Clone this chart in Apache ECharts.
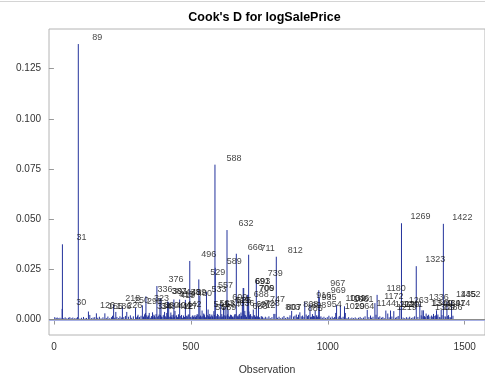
<!DOCTYPE html>
<html>
<head>
<meta charset="utf-8">
<script src="https://cdn.jsdelivr.net/npm/echarts@6/dist/echarts.min.js"></script>
<style>html,body{margin:0;padding:0;background:#fff}#c{width:485px;height:381px}</style>
</head>
<body>
<div id="c"></div>
<script>
// Labeled (influential) observations: [observation, Cook's D]
const labeledNeedles = [
  [30,0.0053],[31,0.0375],[89,0.1373],[126,0.0040],[155,0.0031],[186,0.0031],
  [218,0.0074],[226,0.0038],[250,0.0062],[298,0.0058],[323,0.0071],[334,0.0033],
  [336,0.0116],[348,0.0033],[360,0.0036],[376,0.0167],[387,0.0107],[391,0.0105],
  [404,0.0038],[412,0.0033],[415,0.0090],[419,0.0088],[427,0.0035],[438,0.0100],
  [442,0.0043],[459,0.0100],[480,0.0098],[496,0.0292],[529,0.0200],[533,0.0118],
  [541,0.0045],[547,0.0030],[557,0.0138],[563,0.0050],[569,0.0028],[584,0.0042],
  [588,0.0772],[589,0.0258],[609,0.0079],[619,0.0060],[625,0.0063],[632,0.0446],
  [636,0.0048],[666,0.0328],[683,0.0035],[688,0.0093],[691,0.0157],[693,0.0157],
  [697,0.0043],[706,0.0123],[709,0.0123],[711,0.0323],[712,0.0040],[728,0.0050],
  [739,0.0197],[747,0.0069],[803,0.0028],[807,0.0028],[812,0.0313],[868,0.0043],
  [885,0.0025],[898,0.0036],[916,0.0088],[935,0.0076],[954,0.0044],[967,0.0146],
  [969,0.0110],[1029,0.0033],[1032,0.0072],[1046,0.0070],[1061,0.0066],[1064,0.0033],
  [1144,0.0048],[1172,0.0082],[1180,0.0123],[1212,0.0045],[1219,0.0030],[1229,0.0045],
  [1241,0.0042],[1263,0.0061],[1269,0.0480],[1323,0.0266],[1336,0.0077],[1344,0.0046],
  [1349,0.0046],[1359,0.0030],[1386,0.0028],[1397,0.0046],[1414,0.0048],[1422,0.0477],
  [1435,0.0090],[1452,0.0092]
];
// Remaining visible observations: [observation, Cook's D]
const minorNeedles = [
  [3,0.0012],[8,0.0008],[12,0.0010],[17,0.0006],[22,0.0009],[27,0.0005],[36,0.0007],
  [41,0.0011],[47,0.0006],[53,0.0009],[58,0.0012],[63,0.0007],[69,0.0010],[75,0.0006],
  [81,0.0008],[86,0.0012],[95,0.0005],[101,0.0009],[108,0.0013],[114,0.0006],[119,0.0008],
  [131,0.0023],[137,0.0007],[143,0.0010],[149,0.0012],[160,0.0009],[166,0.0014],[172,0.0006],
  [179,0.0011],[191,0.0008],[197,0.0015],[204,0.0007],[210,0.0012],[214,0.0019],[222,0.0009],
  [230,0.0013],[236,0.0007],[241,0.0016],[246,0.0010],[255,0.0012],[261,0.0018],[266,0.0038],
  [272,0.0014],[279,0.0021],[284,0.0009],[290,0.0016],[302,0.0011],[307,0.0024],[313,0.0013],
  [318,0.0019],[327,0.0015],[331,0.0026],[341,0.0012],[345,0.0020],[352,0.0009],[356,0.0017],
  [365,0.0024],[370,0.0011],[381,0.0018],[384,0.0025],[395,0.0012],[399,0.0021],[408,0.0016],
  [423,0.0013],[431,0.0022],[434,0.0010],[446,0.0019],[451,0.0012],[455,0.0026],[464,0.0015],
  [469,0.0009],[473,0.0020],[477,0.0013],[485,0.0017],[490,0.0024],[501,0.0011],[505,0.0018],
  [510,0.0013],[515,0.0022],[519,0.0009],[523,0.0027],[537,0.0016],[540,0.0012],[550,0.0021],
  [553,0.0010],[566,0.0019],[572,0.0014],[577,0.0025],[581,0.0011],[595,0.0018],[600,0.0023],
  [603,0.0012],[613,0.0027],[616,0.0015],[628,0.0020],[641,0.0013],[645,0.0024],[650,0.0017],
  [655,0.0011],[660,0.0026],[669,0.0019],[673,0.0012],[677,0.0028],[680,0.0016],[700,0.0022],
  [703,0.0014],[716,0.0025],[720,0.0018],[724,0.0011],[733,0.0020],[743,0.0015],[752,0.0009],
  [757,0.0017],[762,0.0012],[767,0.0008],[772,0.0014],[778,0.0010],[785,0.0016],[790,0.0007],
  [796,0.0012],[816,0.0009],[822,0.0014],[828,0.0007],[834,0.0011],[840,0.0018],[846,0.0008],
  [852,0.0013],[858,0.0010],[862,0.0021],[875,0.0015],[880,0.0019],[889,0.0012],[893,0.0024],
  [903,0.0016],[908,0.0020],[913,0.0013],[921,0.0025],[926,0.0017],[930,0.0022],[940,0.0014],
  [944,0.0027],[948,0.0018],[959,0.0021],[962,0.0013],[975,0.0016],[980,0.0009],[986,0.0014],
  [992,0.0008],[998,0.0012],[1004,0.0019],[1010,0.0010],[1016,0.0015],[1020,0.0008],[1025,0.0013],
  [1038,0.0011],[1042,0.0018],[1051,0.0009],[1056,0.0014],[1070,0.0008],[1076,0.0012],[1082,0.0006],
  [1088,0.0010],[1094,0.0007],[1100,0.0011],[1106,0.0006],[1112,0.0009],[1118,0.0013],[1124,0.0007],
  [1130,0.0010],[1136,0.0016],[1150,0.0012],[1156,0.0020],[1160,0.0009],[1165,0.0014],[1176,0.0024],
  [1185,0.0011],[1190,0.0016],[1196,0.0009],[1201,0.0013],[1206,0.0007],[1224,0.0011],[1234,0.0015],
  [1247,0.0009],[1252,0.0013],[1257,0.0018],[1275,0.0010],[1281,0.0007],[1287,0.0012],[1293,0.0009],
  [1299,0.0014],[1305,0.0008],[1311,0.0011],[1317,0.0016],[1329,0.0013],[1341,0.0021],[1353,0.0017],
  [1368,0.0024],[1373,0.0015],[1379,0.0020],[1391,0.0018],[1402,0.0025],[1407,0.0013],[1428,0.0016],
  [1441,0.0022],[1446,0.0012],[1457,0.0019],
  [305,0.0017],[311,0.0010],[339,0.0021],[343,0.0014],[362,0.0012],[367,0.0019],[373,0.0027],
  [379,0.0013],[389,0.0022],[393,0.0015],[402,0.0024],[410,0.0011],[417,0.0020],[425,0.0016],
  [429,0.0012],[436,0.0025],[440,0.0014],[448,0.0021],[453,0.0010],[461,0.0018],[466,0.0023],
  [475,0.0012],[482,0.0020],[487,0.0015],[493,0.0026],[498,0.0013],[507,0.0021],[512,0.0016],
  [517,0.0012],[521,0.0019],[526,0.0024],[531,0.0014],[535,0.0020],[544,0.0017],[548,0.0026],
  [555,0.0013],[560,0.0022],[564,0.0015],[568,0.0011],[574,0.0020],[579,0.0016],[586,0.0023],
  [592,0.0014],[597,0.0028],[606,0.0017],[611,0.0012],[622,0.0021],[627,0.0015],[634,0.0026],
  [639,0.0018],[648,0.0022],[652,0.0013],[658,0.0019],[664,0.0027],[671,0.0015],[675,0.0021],
  [685,0.0018],[695,0.0025],[702,0.0013],[714,0.0020],[718,0.0027],[726,0.0016],[731,0.0022],
  [736,0.0014],[741,0.0019],[750,0.0012],[760,0.0015],[937,0.0012],[951,0.0016],[957,0.0010],
  [965,0.0020],[971,0.0012],[1348,0.0015],[1356,0.0012],[1364,0.0019],[1383,0.0014],[1394,0.0021],
  [1399,0.0016],[1410,0.0011],[1417,0.0022],[1431,0.0014],[1438,0.0018],[1449,0.0010]
];
const xTicks = [0, 500, 1000, 1500];
const yTicks = [0, 0.025, 0.05, 0.075, 0.1, 0.125];
const threshold = 4 / 1460;

const needleColor = '#23329c';
const allNeedles = minorNeedles.concat(labeledNeedles);
const FONT = 'Liberation Sans, Arial, sans-serif';

const chart = echarts.init(document.getElementById('c'), null, {renderer: 'canvas'});
chart.setOption({
  animation: false,
  backgroundColor: '#fff',
  graphic: [
    {type: 'line', shape: {x1: 0, y1: 1.5, x2: 485, y2: 1.5}, style: {stroke: '#d4d4d4', lineWidth: 1}},
    {type: 'text', x: 264.5, y: 18, style: {text: "Cook's D for logSalePrice", fontFamily: FONT, fontSize: 12.5, fontWeight: 'bold', fill: '#000', align: 'center', verticalAlign: 'middle'}}
  ],
  grid: {left: 49, top: 29, width: 438, height: 310, show: true, borderColor: '#b4b4b4', borderWidth: 1, backgroundColor: '#fff'},
  xAxis: {
    type: 'value', min: -18, max: 1574,
    name: 'Observation', nameLocation: 'middle', nameGap: 30,
    nameTextStyle: {fontFamily: FONT, fontSize: 10.5, color: '#333'},
    axisLine: {show: false},
    splitLine: {show: false},
    axisTick: {show: true, length: 5, lineStyle: {color: '#999'}, customValues: xTicks},
    axisLabel: {customValues: xTicks, margin: 7, fontFamily: FONT, fontSize: 10, color: '#333', formatter: v => String(v)}
  },
  yAxis: {
    type: 'value', min: -0.0077, max: 0.1448,
    axisLine: {show: false},
    splitLine: {show: false},
    axisTick: {show: true, length: 5, lineStyle: {color: '#999'}, customValues: yTicks},
    axisLabel: {customValues: yTicks, margin: 8, fontFamily: FONT, fontSize: 10, color: '#333',
      formatter: v => v.toFixed(3)}
  },
  series: [
    {
      type: 'custom',
      data: allNeedles,
      renderItem: function (params, api) {
        const x = api.value(0), v = api.value(1);
        const p0 = api.coord([x, 0]);
        const p1 = api.coord([x, v]);
        return {type: 'line', shape: {x1: p0[0], y1: p0[1], x2: p1[0], y2: p1[1]},
          style: {stroke: needleColor, lineWidth: 1}};
      },
      markLine: {
        silent: true, symbol: 'none', label: {show: false},
        data: [
          {yAxis: 0, lineStyle: {color: '#a7b0e4', width: 2, type: 'solid'}},
          {yAxis: threshold, lineStyle: {color: '#8c8c8c', width: 1, type: 'solid'}}
        ]
      },
      z: 2
    },
    {
      type: 'scatter',
      symbolSize: 0,
      data: labeledNeedles.map(d => ({value: d, name: String(d[0])})),
      label: {
        show: true, position: 'top', distance: 2, offset: [19, 0],
        formatter: p => p.name,
        fontFamily: FONT, fontSize: 9, color: '#111'
      },
      z: 3
    }
  ]
});
</script>
</body>
</html>
